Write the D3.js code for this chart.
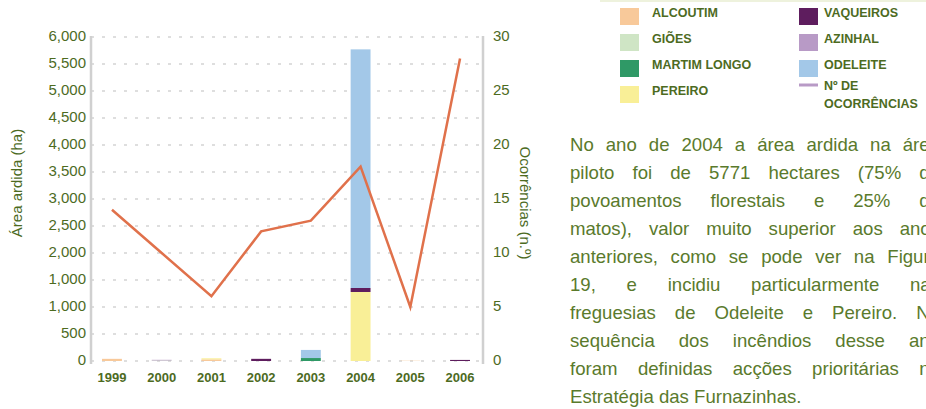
<!DOCTYPE html>
<html>
<head>
<meta charset="UTF-8">
<script src="https://d3js.org/d3.v7.min.js"></script>
<style>
  body { margin: 0; background: #fff; overflow: hidden; font-family: "Liberation Sans", Arial, sans-serif; }
  #wrap { position: relative; width: 926px; height: 409px; overflow: hidden; }
  svg { position: absolute; left: 0; top: 0; }
  .para { position: absolute; left: 570px; top: 131px; width: 370px; color: #5a7a2c; font-size: 18.6px; line-height: 28px; }
  .para div { white-space: nowrap; text-align: justify; text-align-last: justify; }
  .para div.last { text-align-last: left; }
</style>
</head>
<body>
<div id="wrap"></div>
<script>
// data
var years = ["1999", "2000", "2001", "2002", "2003", "2004", "2005", "2006"];
var alcoutim    = [40, 0, 30, 0, 0, 0, 5, 0];
var gioes       = [0, 10, 0, 0, 0, 0, 0, 0];
var martimLongo = [0, 0, 0, 0, 55, 0, 0, 0];
var pereiro     = [0, 0, 20, 0, 0, 1278, 0, 0];
var vaqueiros   = [0, 0, 0, 40, 0, 74, 0, 20];
var azinhal     = [0, 12, 0, 0, 0, 0, 0, 0];
var odeleite    = [0, 0, 0, 0, 150, 4419, 0, 0];
var ocorrencias = [14, 10, 6, 12, 13, 18, 5, 28];

var leftTicks  = [0, 500, 1000, 1500, 2000, 2500, 3000, 3500, 4000, 4500, 5000, 5500, 6000];
var leftLabels = ["0", "500", "1,000", "1,000", "2,000", "2,500", "3,000", "3,500", "4,000", "4,500", "5,000", "5,500", "6,000"];
var rightTicks = [0, 5, 10, 15, 20, 25, 30];

var seriesNames  = ["ALCOUTIM", "GIÕES", "MARTIM LONGO", "PEREIRO", "VAQUEIROS", "AZINHAL", "ODELEITE"];
var seriesColors = ["#f8c99a", "#cfe5c5", "#2f9966", "#f9ef97", "#5e1d5e", "#b89ac6", "#a3c8e8"];

var paragraph = [
  "No ano de 2004 a área ardida na área",
  "piloto foi de 5771 hectares (75% de",
  "povoamentos florestais e 25%  de",
  "matos), valor muito superior aos anos",
  "anteriores, como se pode ver na Figura",
  "19, e incidiu particularmente nas",
  "freguesias de Odeleite e Pereiro. Na",
  "sequência dos incêndios desse ano",
  "foram definidas acções prioritárias na",
  "Estratégia das Furnazinhas."
];

var green = "#4d6b1f";

// stacked table
var table = years.map(function(y, i) {
  return { year: y, ALCOUTIM: alcoutim[i], "GIÕES": gioes[i], "MARTIM LONGO": martimLongo[i],
           PEREIRO: pereiro[i], VAQUEIROS: vaqueiros[i], AZINHAL: azinhal[i], ODELEITE: odeleite[i] };
});
var stack = d3.stack().keys(seriesNames);
var stacked = stack(table);

var svg = d3.select("#wrap").append("svg").attr("width", 926).attr("height", 409);

var x = d3.scaleBand().domain(years).range([87.1, 484.9]).paddingInner(0.6).paddingOuter(0.3);
var yL = d3.scaleLinear().domain([0, 6000]).range([361, 37]);
var yR = d3.scaleLinear().domain([0, 30]).range([361, 37]);

// top legend rule
svg.append("line").attr("x1", 600).attr("x2", 926).attr("y1", 1).attr("y2", 1)
  .style("stroke", "#eef2dd").style("stroke-width", 2);

// grid
svg.append("g").selectAll("line")
  .data(leftTicks)
  .join("line")
  .attr("x1", 91).attr("x2", 483)
  .attr("y1", function(d) { return yL(d); })
  .attr("y2", function(d) { return yL(d); })
  .style("stroke", "#d4d4d4")
  .style("stroke-width", 1.5)
  .style("stroke-dasharray", "3,8");

// bars
var cIdx = {};
seriesNames.forEach(function(n, i) { cIdx[n] = seriesColors[i]; });
svg.append("g").selectAll("g")
  .data(stacked)
  .join("g")
  .style("fill", function(d) { return cIdx[d.key]; })
  .selectAll("rect")
  .data(function(d) { return d; })
  .join("rect")
  .attr("x", function(d) { return x(d.data.year); })
  .attr("width", x.bandwidth())
  .attr("y", function(d) { return yL(d[1]); })
  .attr("height", function(d) { return yL(d[0]) - yL(d[1]); });

// left axis
var axL = svg.append("g").attr("transform", "translate(91,0)")
  .call(d3.axisLeft(yL).tickValues(leftTicks).tickFormat(function(d, i) { return leftLabels[i]; }).tickSize(0).tickPadding(5));
axL.select(".domain").style("stroke", "#d0d0d0").style("stroke-width", 2.5).attr("d", "M0,36V364");
axL.selectAll("text").style("fill", green).style("font-size", "15px").style("font-family", "Liberation Sans, Arial, sans-serif").attr("dy", "0.2em");

// right axis
var axR = svg.append("g").attr("transform", "translate(483,0)")
  .call(d3.axisRight(yR).tickValues(rightTicks).tickSize(0).tickPadding(10));
axR.select(".domain").style("stroke", "#d0d0d0").style("stroke-width", 2.5).attr("d", "M0,36V364");
axR.selectAll("text").style("fill", green).style("font-size", "15px").style("font-family", "Liberation Sans, Arial, sans-serif").attr("dy", "0.2em");

// x labels
svg.append("g").selectAll("text")
  .data(years)
  .join("text")
  .attr("x", function(d) { return x(d) + x.bandwidth() / 2; })
  .attr("y", 382)
  .attr("text-anchor", "middle")
  .style("font-weight", "bold")
  .style("font-size", "13px")
  .style("fill", green)
  .text(function(d) { return d; });

// line
var line = d3.line()
  .x(function(d, i) { return x(years[i]) + x.bandwidth() / 2; })
  .y(function(d) { return yR(d); });
svg.append("path")
  .datum(ocorrencias)
  .attr("d", line)
  .style("fill", "none")
  .style("stroke", "#e0714b")
  .style("stroke-width", 2.5);

// axis titles
svg.append("text")
  .attr("transform", "translate(22,183) rotate(-90)")
  .attr("text-anchor", "middle")
  .style("font-size", "15px")
  .style("fill", green)
  .text("Área ardida (ha)");
svg.append("text")
  .attr("transform", "translate(520,203) rotate(90)")
  .attr("text-anchor", "middle")
  .style("font-size", "15px")
  .style("fill", green)
  .text("Ocorrências (n.º)");

// legend
var legendPos = [[620, 8, 32], [620, 34, 32], [620, 60, 32], [620, 86, 32], [799, 8, 25], [799, 34, 25], [799, 60, 25]];
var leg = svg.append("g").selectAll("g")
  .data(seriesNames)
  .join("g")
  .attr("transform", function(d, i) { return "translate(" + legendPos[i][0] + "," + legendPos[i][1] + ")"; });
leg.append("rect").attr("width", 19).attr("height", 17)
  .style("fill", function(d, i) { return seriesColors[i]; });
leg.append("text").attr("x", function(d, i) { return legendPos[i][2]; }).attr("y", 5).attr("dy", "0.35em")
  .style("font-weight", "bold").style("font-size", "12.5px").style("fill", green)
  .text(function(d) { return d; });

var lineLeg = svg.append("g").attr("transform", "translate(799,85)");
lineLeg.append("line").attr("x1", 0).attr("x2", 19).attr("y1", 0).attr("y2", 0)
  .style("stroke", "#b89ac6").style("stroke-width", 3);
lineLeg.append("text").attr("x", 25).attr("y", 1).attr("dy", "0.35em")
  .style("font-weight", "bold").style("font-size", "12.5px").style("fill", green).text("Nº DE");
lineLeg.append("text").attr("x", 25).attr("y", 19).attr("dy", "0.35em")
  .style("font-weight", "bold").style("font-size", "12.5px").style("fill", green).text("OCORRÊNCIAS");

// paragraph
d3.select("#wrap").append("div").attr("class", "para")
  .selectAll("div")
  .data(paragraph)
  .join("div")
  .classed("last", function(d, i) { return i === paragraph.length - 1; })
  .text(function(d) { return d; });
</script>
</body>
</html>
